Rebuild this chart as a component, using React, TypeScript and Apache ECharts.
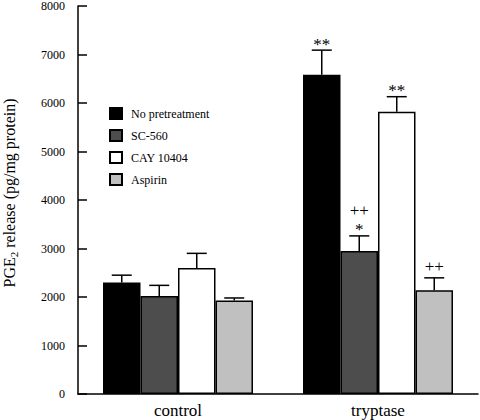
import React, { useEffect, useRef } from "react";
import * as echarts from "echarts";

const categories = ["control", "tryptase"];
const seriesNames = ["No pretreatment", "SC-560", "CAY 10404", "Aspirin"];
const seriesColors = ["#000000", "#4d4d4d", "#ffffff", "#c0c0c0"];
const noPretreatment = [2300, 6580];
const sc560 = [2020, 2950];
const cay10404 = [2600, 5820];
const aspirin = [1930, 2140];
const noPretreatmentErr = [150, 510];
const sc560Err = [220, 310];
const cay10404Err = [300, 310];
const aspirinErr = [50, 255];
// significance marks directly above the error bar
const noPretreatmentMarks = ["", "**"];
const sc560Marks = ["", "*"];
const cay10404Marks = ["", "**"];
const aspirinMarks = ["", "++"];
// marks on a second line above
const sc560UpperMarks = ["", "++"];
const yTicks = [0, 8000, 1000];

const FONT = "'Liberation Serif', 'Times New Roman', serif";

export default function App() {
  const ref = useRef<HTMLDivElement>(null);
  useEffect(() => {
    document.body.style.margin = "0";
    const chart = echarts.init(ref.current!, null, { renderer: "svg" });
    const values = [noPretreatment, sc560, cay10404, aspirin];
    const errs = [noPretreatmentErr, sc560Err, cay10404Err, aspirinErr];
    const marks = [noPretreatmentMarks, sc560Marks, cay10404Marks, aspirinMarks];
    const upper = [["", ""], sc560UpperMarks, ["", ""], ["", ""]];
    const barSeries = seriesNames.map((name, i) => ({
      name,
      type: "bar",
      data: values[i],
      barGap: "0%",
      barCategoryGap: "25%",
      itemStyle: { color: seriesColors[i], borderColor: "#000", borderWidth: 1.5 },
    }));
    const markText = (text: string, x: number, y: number) => ({
      type: "text",
      style: {
        text,
        x,
        y,
        align: "center",
        verticalAlign: "middle",
        font: "17px " + FONT,
        fill: "#000",
      },
    });
    const errSeries = seriesNames.map((name, i) => ({
      type: "custom",
      name: name + " err",
      z: 5,
      data: categories.map((_, c) => [c, values[i][c], errs[i][c]]),
      renderItem: (params: any, api: any) => {
        const c = api.value(0);
        const v = api.value(1);
        const e = api.value(2);
        const m = marks[i][c];
        const u = upper[i][c];
        const base = api.coord([c, v]);
        const top = api.coord([c, v + e]);
        const band = api.size([1, 0])[0];
        const bw = (band * 0.75) / 4;
        const cx = base[0] + (i - 1.5) * bw;
        const children: any[] = [
          {
            type: "line",
            shape: { x1: cx, y1: base[1], x2: cx, y2: top[1] },
            style: { stroke: "#000", lineWidth: 1.5 },
          },
          {
            type: "line",
            shape: { x1: cx - 10, y1: top[1], x2: cx + 10, y2: top[1] },
            style: { stroke: "#000", lineWidth: 1.5 },
          },
        ];
        if (m) {
          const isStar = m.indexOf("*") >= 0;
          children.push(markText(m, cx, top[1] - (isStar ? 6 : 11)));
        }
        if (u) {
          children.push(markText(u, cx, top[1] - 25));
        }
        return { type: "group", children };
      },
    }));
    chart.setOption({
      animation: false,
      grid: { left: 78, right: 2, top: 6, bottom: 26 },
      legend: {
        data: seriesNames,
        orient: "vertical",
        left: 104,
        top: 102,
        icon: "rect",
        itemWidth: 12,
        itemHeight: 11,
        itemGap: 9,
        textStyle: { fontFamily: FONT, fontSize: 12, color: "#000", padding: [0, 0, 0, 4] },
      },
      xAxis: {
        type: "category",
        data: categories,
        axisLine: { lineStyle: { color: "#000", width: 1.5 } },
        axisTick: { show: false },
        axisLabel: { fontFamily: FONT, fontSize: 17, color: "#000", margin: 8 },
      },
      yAxis: {
        type: "value",
        min: yTicks[0],
        max: yTicks[1],
        interval: yTicks[2],
        splitLine: { show: false },
        axisLine: { show: true, lineStyle: { color: "#000", width: 1.5 } },
        axisTick: { show: true, inside: true, length: 9, lineStyle: { color: "#000", width: 1.5 } },
        axisLabel: {
          fontFamily: FONT,
          fontSize: 12,
          color: "#000",
          margin: 13,
          formatter: (v: number) => String(v),
        },
      },
      graphic: [
        {
          type: "text",
          x: 9,
          y: 193,
          rotation: Math.PI / 2,
          style: {
            text: "{n|PGE}{s|2}{n| release (pg/mg protein)}",
            align: "center",
            verticalAlign: "middle",
            fill: "#000",
            rich: {
              n: { fontFamily: FONT, fontSize: 16, fill: "#000", lineHeight: 20 },
              s: { fontFamily: FONT, fontSize: 11, fill: "#000", verticalAlign: "bottom", lineHeight: 20 },
            },
          },
        },
      ],
      series: [...barSeries, ...errSeries],
    });
    return () => chart.dispose();
  }, []);
  return <div ref={ref} style={{ width: 480, height: 420 }} />;
}
